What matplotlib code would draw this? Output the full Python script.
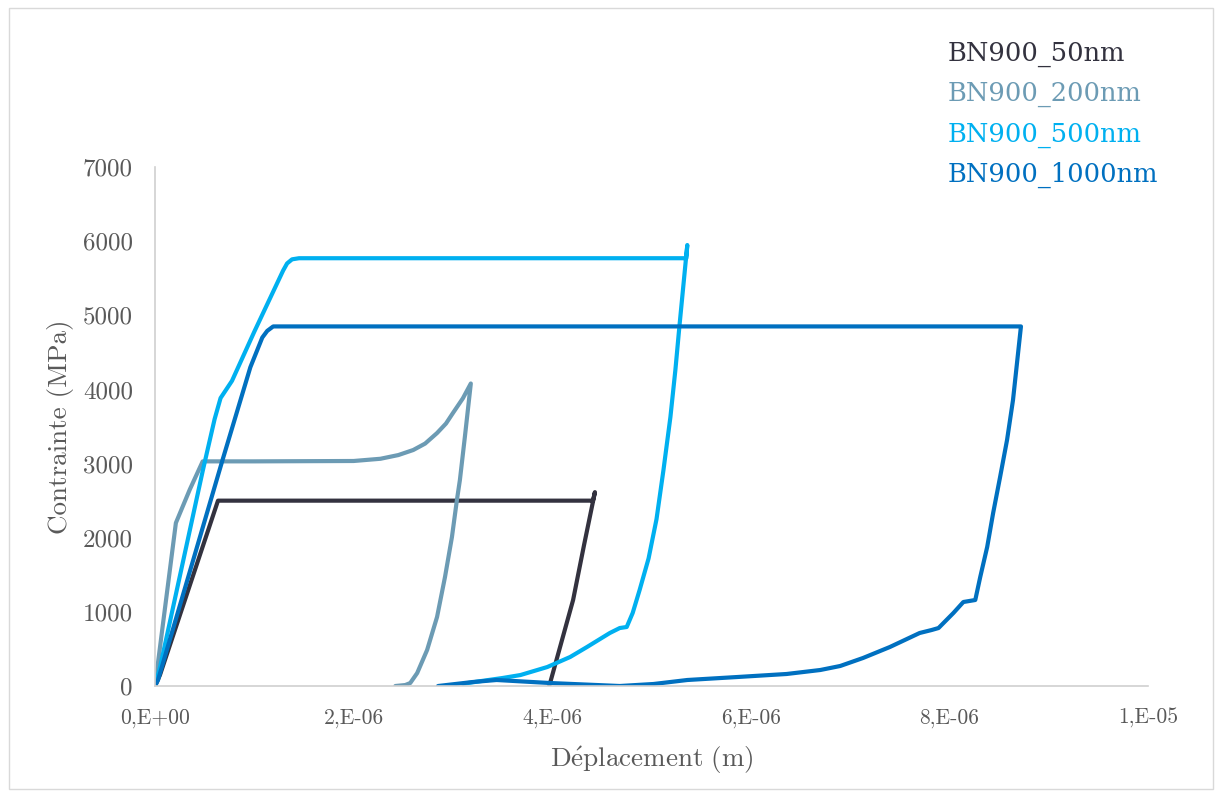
import matplotlib
matplotlib.use("Agg")
from matplotlib import pyplot as plt
from matplotlib.patches import Rectangle

# displacement in micrometres (scaled to m when plotting), stress in MPa
x_50 = [0.0, 0.05, 0.634, 1.0, 4.41, 4.43, 4.32, 4.21, 4.09, 3.97]
y_50 = [0, 150, 2500, 2500, 2500, 2615, 1900, 1160, 580, 0]

x_200 = [0.0, 0.21, 0.35, 0.48, 1.0, 2.0, 2.27, 2.45, 2.60, 2.72, 2.84, 2.93, 3.00, 3.10, 3.18,
         3.12, 3.07, 3.04, 2.99, 2.92, 2.84, 2.74, 2.64, 2.57, 2.52, 2.42]
y_200 = [0, 2200, 2650, 3030, 3030, 3035, 3065, 3115, 3183, 3270, 3412, 3540, 3682, 3880, 4080,
         3358, 2778, 2509, 2010, 1470, 931, 486, 175, 40, 13, 0]

x_500 = [0.0, 0.05, 0.48, 0.60, 0.66, 0.775, 1.0, 1.29, 1.33, 1.38, 1.45, 3.0, 5.35,
         5.36, 5.28, 5.24, 5.19, 5.12, 5.05, 4.97, 4.88, 4.81, 4.75, 4.68, 4.58, 4.35,
         4.18, 3.95, 3.68, 3.50, 3.30, 3.10]
y_500 = [0, 250, 2900, 3600, 3884, 4116, 4780, 5604, 5700, 5755, 5770, 5770, 5770,
         5948, 4842, 4262, 3628, 2913, 2250, 1720, 1295, 985, 796, 782, 715, 526,
         391, 256, 148, 108, 70, 30]

x_1000 = [0.0, 0.03, 0.68, 0.96, 1.08, 1.13, 1.19, 5.0, 8.72,
          8.64, 8.58, 8.51, 8.44, 8.38, 8.31, 8.26, 8.14, 8.04, 7.89, 7.82, 7.70,
          7.40, 7.13, 6.90, 6.70, 6.36, 5.86, 5.36, 5.02, 4.68, 3.98, 3.44, 3.20, 2.85]
y_1000 = [0, 80, 3050, 4300, 4700, 4790, 4850, 4850, 4850,
          3857, 3318, 2819, 2333, 1875, 1470, 1160, 1133, 985, 782, 755, 715,
          526, 378, 270, 216, 162, 121, 81, 27, 0, 40, 81, 54, 0]

series = [
    ("BN900_50nm", x_50, y_50, "#33323f"),
    ("BN900_200nm", x_200, y_200, "#6c9bb4"),
    ("BN900_500nm", x_500, y_500, "#00b0f0"),
    ("BN900_1000nm", x_1000, y_1000, "#0070c0"),
]

x_ticks = [0, 2e-6, 4e-6, 6e-6, 8e-6, 1e-5]
x_tick_labels = ["0,E+00", "2,E-06", "4,E-06", "6,E-06", "8,E-06", "1,E-05"]
y_ticks = [0, 1000, 2000, 3000, 4000, 5000, 6000, 7000]

plt.rcParams["mathtext.fontset"] = "cm"
cm_font = ["cmr10", "DejaVu Serif"]
grey_text = "#595959"

fig = plt.figure(figsize=(12.15, 7.95), dpi=100)
fig.patches.append(Rectangle((0.007, 0.007), 0.991, 0.983, transform=fig.transFigure,
                             fill=False, edgecolor="#d9d9d9", linewidth=1))

ax = fig.add_axes([0.1276, 0.1371, 0.8173, 0.6528])

for label, xs, ys, color in series:
    ax.plot([v * 1e-6 for v in xs], ys, color=color, linewidth=3,
            solid_joinstyle="round", solid_capstyle="round", label=label)

ax.set_xlim(0, 1e-5)
ax.set_ylim(0, 7000)
ax.set_xticks(x_ticks)
ax.set_xticklabels(x_tick_labels)
ax.set_yticks(y_ticks)
ax.set_yticklabels([str(v) for v in y_ticks])
ax.tick_params(length=0, colors=grey_text)
ax.tick_params(axis="y", pad=16, labelsize=18)
ax.tick_params(axis="x", pad=16, labelsize=15.5)
for t in ax.get_xticklabels() + ax.get_yticklabels():
    t.set_family(cm_font)

for side in ("top", "right"):
    ax.spines[side].set_visible(False)
for side in ("left", "bottom"):
    ax.spines[side].set_color("#d0d0d0")
    ax.spines[side].set_linewidth(1.2)

ax.set_xlabel(r"$\mathrm{D\acute{e}placement\ (m)}$", fontsize=19.5, color=grey_text, labelpad=12)
ax.set_ylabel("Contrainte (MPa)", fontsize=19.5, color=grey_text, family=cm_font, labelpad=6)

ax.legend(loc="upper left", bbox_to_anchor=(0.761, 0.978), bbox_transform=fig.transFigure,
          frameon=False, handlelength=0, handletextpad=0, labelcolor="linecolor",
          labelspacing=0.55, prop={"family": "DejaVu Serif", "size": 18.5})

fig.savefig("out.png", dpi=100)
